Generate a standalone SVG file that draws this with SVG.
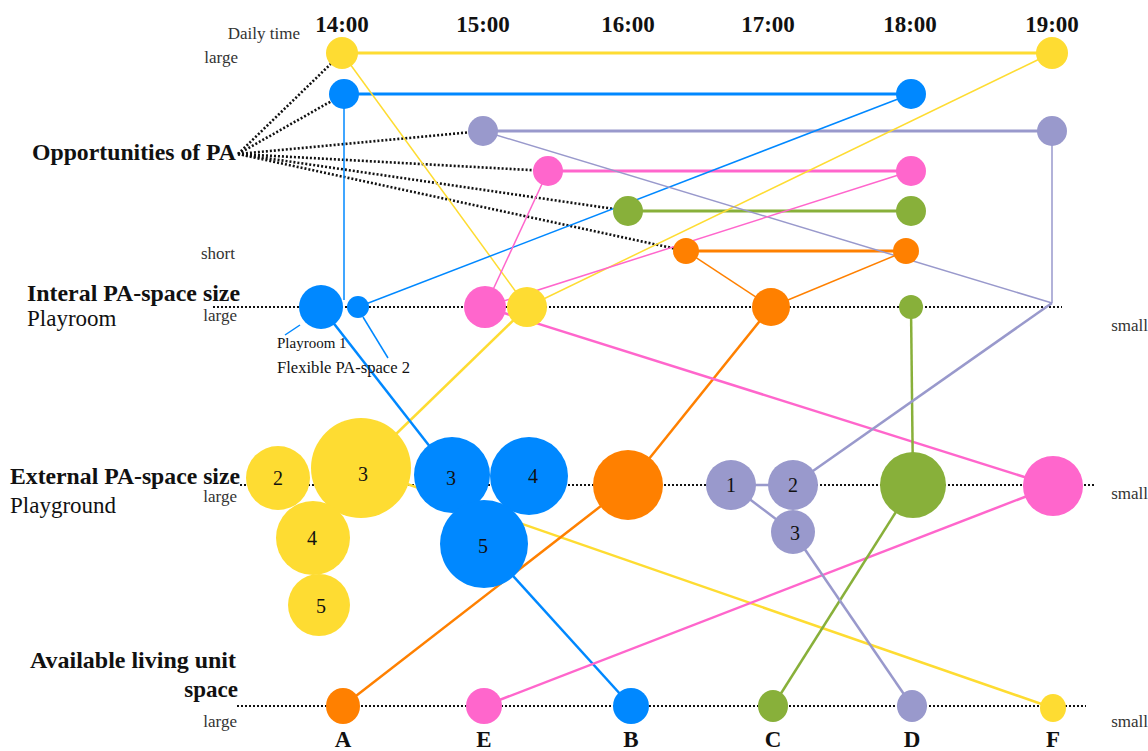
<svg xmlns="http://www.w3.org/2000/svg" width="1148" height="751" viewBox="0 0 1148 751">
<style>
.t{font-family:"Liberation Serif",serif;fill:#111}
.b{font-weight:bold;font-size:23px}
.s{font-size:17px;fill:#333}
.n{font-size:20px;fill:#111;text-anchor:middle}
.h{font-weight:bold;font-size:23px;text-anchor:middle}
.dot{stroke:#111;stroke-width:2.2;stroke-dasharray:2 2;fill:none}
.op{stroke:#111;stroke-width:2.6;stroke-dasharray:2 2;fill:none}
.Y{fill:#FEDC32}.Bl{fill:#0088FF}.P{fill:#9999CC}.K{fill:#FF66CC}.G{fill:#88B03A}.O{fill:#FF8000}
.y{stroke:#FEDC32}.bl{stroke:#0088FF}.p{stroke:#9999CC}.k{stroke:#FF66CC}.g{stroke:#88B03A}.o{stroke:#FF8000}
.thin{stroke-width:1.5;fill:none}.thick{stroke-width:3;fill:none}.mid{stroke-width:2.5;fill:none}
</style>
<rect width="1148" height="751" fill="#fff"/>
<g id="axes">
<line class="dot" x1="213" y1="307" x2="1062" y2="307"/>
<line class="dot" x1="240" y1="485" x2="1095" y2="485"/>
<line class="dot" x1="237" y1="706" x2="1086" y2="706"/>
</g>
<g id="connectors">
<line class="op" x1="238" y1="154" x2="342" y2="53"/>
<line class="op" x1="238" y1="154" x2="344" y2="94"/>
<line class="op" x1="238" y1="154" x2="483" y2="131"/>
<line class="op" x1="238" y1="154" x2="548" y2="171"/>
<line class="op" x1="238" y1="154" x2="628" y2="211"/>
<line class="op" x1="238" y1="154" x2="686" y2="251"/>
<line class="y thick" x1="342" y1="53" x2="1052" y2="53"/>
<line class="bl thick" x1="344" y1="94" x2="911" y2="94"/>
<line class="p thick" x1="483" y1="131" x2="1052" y2="131"/>
<line class="k thick" x1="548" y1="171" x2="911" y2="171"/>
<line class="g thick" x1="628" y1="211" x2="911" y2="211"/>
<line class="o thick" x1="686" y1="251" x2="906" y2="251"/>
<line class="y thin" x1="342" y1="53" x2="527" y2="307"/>
<line class="y thin" x1="527" y1="307" x2="1052" y2="53"/>
<line class="bl thin" x1="344" y1="94" x2="344" y2="300"/>
<line class="bl thin" x1="911" y1="94" x2="358" y2="307"/>
<line class="p thin" x1="483" y1="131" x2="1052" y2="303"/>
<line class="p thin" x1="1052" y1="131" x2="1052" y2="303"/>
<line class="k thin" x1="548" y1="171" x2="485" y2="307"/>
<line class="k thin" x1="911" y1="171" x2="485" y2="307"/>
<line class="o thin" x1="686" y1="251" x2="771" y2="307"/>
<line class="o thin" x1="906" y1="251" x2="771" y2="307"/>
<line class="bl thin" x1="300" y1="325" x2="285" y2="335"/>
<line class="bl thin" x1="363" y1="317" x2="388" y2="358"/>
<line class="y mid" x1="527" y1="307" x2="361" y2="468"/>
<line class="bl mid" x1="321" y1="307" x2="452" y2="475"/>
<line class="o mid" x1="771" y1="307" x2="628" y2="485"/>
<line class="k mid" x1="485" y1="307" x2="1053" y2="486"/>
<line class="g mid" x1="911" y1="307" x2="913" y2="485"/>
<line class="p mid" x1="1052" y1="303" x2="793" y2="485"/>
<line class="p mid" x1="731" y1="485" x2="793" y2="485"/>
<line class="p mid" x1="731" y1="485" x2="793" y2="532"/>
<line class="y mid" x1="361" y1="468" x2="1053" y2="708"/>
<line class="bl mid" x1="484" y1="544" x2="631" y2="706"/>
<line class="o mid" x1="628" y1="485" x2="343" y2="706"/>
<line class="k mid" x1="1053" y1="486" x2="484" y2="706"/>
<line class="g mid" x1="913" y1="485" x2="773" y2="706"/>
<line class="p mid" x1="793" y1="532" x2="912" y2="706"/>
</g>
<g id="time-nodes">
<circle class="Y" cx="342" cy="53" r="16"/><circle class="Y" cx="1052" cy="53" r="16"/>
<circle class="Bl" cx="344" cy="94" r="15"/><circle class="Bl" cx="911" cy="94" r="15"/>
<circle class="P" cx="483" cy="131" r="15"/><circle class="P" cx="1052" cy="131" r="15"/>
<circle class="K" cx="548" cy="171" r="15"/><circle class="K" cx="911" cy="171" r="15"/>
<circle class="G" cx="628" cy="211" r="15"/><circle class="G" cx="911" cy="211" r="15"/>
<circle class="O" cx="686" cy="251" r="13"/><circle class="O" cx="906" cy="251" r="13"/>
</g>
<g id="internal-nodes">
<circle class="Bl" cx="321" cy="307" r="22"/>
<circle class="Bl" cx="358" cy="307" r="11"/>
<circle class="Y" cx="527" cy="307" r="20"/>
<circle class="K" cx="485" cy="307" r="21"/>
<circle class="O" cx="771" cy="307" r="19"/>
<circle class="G" cx="911" cy="307" r="12"/>
</g>
<g id="external-nodes">
<circle class="Y" cx="278" cy="478" r="32"/>
<circle class="Y" cx="361" cy="468" r="50"/>
<circle class="Y" cx="313" cy="538" r="37"/>
<circle class="Y" cx="319" cy="605" r="31"/>
<circle class="Bl" cx="452" cy="475" r="38"/>
<circle class="Bl" cx="529" cy="476" r="39"/>
<circle class="Bl" cx="484" cy="544" r="44"/>
<circle class="O" cx="628" cy="485" r="35"/>
<circle class="P" cx="731" cy="485" r="25"/>
<circle class="P" cx="793" cy="485" r="25"/>
<circle class="P" cx="793" cy="532" r="22"/>
<circle class="G" cx="913" cy="485" r="33"/>
<circle class="K" cx="1053" cy="486" r="30"/>
<text class="t n" x="278" y="485">2</text>
<text class="t n" x="363" y="481">3</text>
<text class="t n" x="312" y="545">4</text>
<text class="t n" x="321" y="613">5</text>
<text class="t n" x="451" y="485">3</text>
<text class="t n" x="533" y="483">4</text>
<text class="t n" x="483" y="553">5</text>
<text class="t n" x="731" y="492">1</text>
<text class="t n" x="793" y="492">2</text>
<text class="t n" x="795" y="540">3</text>
</g>
<g id="unit-nodes">
<ellipse class="O" cx="343" cy="706" rx="17" ry="18"/>
<ellipse class="K" cx="484" cy="706" rx="18" ry="18"/>
<ellipse class="Bl" cx="631" cy="706" rx="18" ry="18"/>
<ellipse class="G" cx="773" cy="706" rx="15" ry="16"/>
<ellipse class="P" cx="912" cy="706" rx="15" ry="16"/>
<ellipse class="Y" cx="1053" cy="708" rx="13" ry="14"/>
</g>
<g id="labels">
<text class="t s" x="300" y="39" text-anchor="end">Daily time</text>
<text class="t s" x="238" y="63" text-anchor="end">large</text>
<text class="t h" x="342" y="32">14:00</text>
<text class="t h" x="483" y="32">15:00</text>
<text class="t h" x="628" y="32">16:00</text>
<text class="t h" x="768" y="32">17:00</text>
<text class="t h" x="910" y="32">18:00</text>
<text class="t h" x="1052" y="32">19:00</text>
<text class="t b" x="32" y="160" textLength="204" lengthAdjust="spacingAndGlyphs">Opportunities of PA</text>
<text class="t s" x="235" y="259" text-anchor="end">short</text>
<text class="t b" x="27" y="301" textLength="213" lengthAdjust="spacingAndGlyphs">Interal PA-space size</text>
<text class="t" x="27" y="326" font-size="23">Playroom</text>
<text class="t s" x="237" y="321" text-anchor="end">large</text>
<text class="t s" x="1148" y="331" text-anchor="end">small</text>
<text class="t" x="277" y="348" font-size="15">Playroom 1</text>
<text class="t" x="277" y="373" font-size="16" textLength="133" lengthAdjust="spacingAndGlyphs">Flexible PA-space 2</text>
<text class="t b" x="10" y="484" textLength="230" lengthAdjust="spacingAndGlyphs">External PA-space size</text>
<text class="t s" x="237" y="502" text-anchor="end">large</text>
<text class="t" x="10" y="513" font-size="23">Playground</text>
<text class="t s" x="1148" y="499" text-anchor="end">small</text>
<text class="t b" x="30" y="668" textLength="206" lengthAdjust="spacingAndGlyphs">Available living unit</text>
<text class="t b" x="238" y="697" text-anchor="end">space</text>
<text class="t s" x="237" y="727" text-anchor="end">large</text>
<text class="t s" x="1148" y="727" text-anchor="end">small</text>
<text class="t h" x="343" y="747" font-size="21">A</text>
<text class="t h" x="484" y="747" font-size="21">E</text>
<text class="t h" x="631" y="747" font-size="21">B</text>
<text class="t h" x="773" y="747" font-size="21">C</text>
<text class="t h" x="912" y="747" font-size="21">D</text>
<text class="t h" x="1053" y="747" font-size="21">F</text>
</g>
</svg>
